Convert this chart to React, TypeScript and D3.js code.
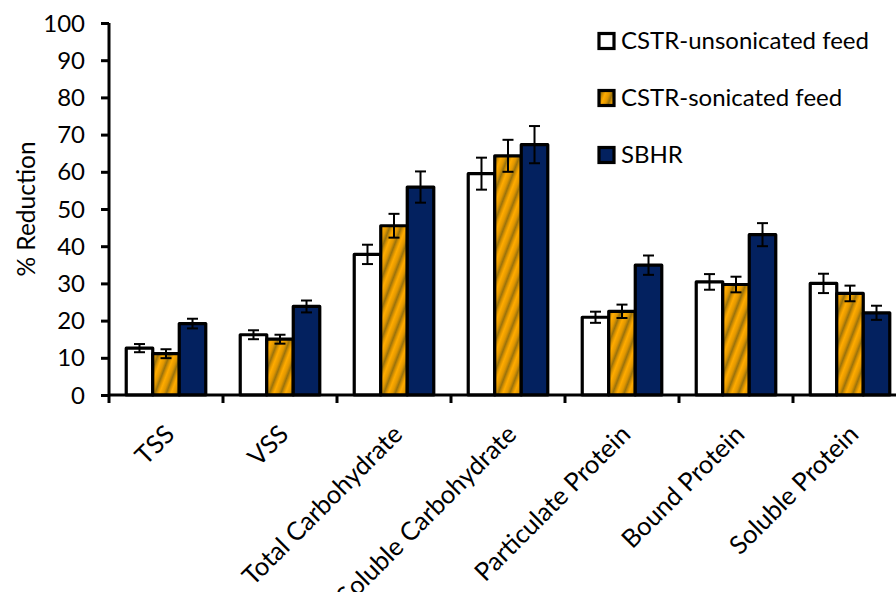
import React, { useEffect, useRef } from "react";
import * as d3 from "d3";

const categories = [
  "TSS",
  "VSS",
  "Total Carbohydrate",
  "Soluble Carbohydrate",
  "Particulate Protein",
  "Bound Protein",
  "Soluble Protein",
];
const seriesNames = ["CSTR-unsonicated feed", "CSTR-sonicated feed", "SBHR"];
const unsonicated = [12.6, 16.2, 37.8, 59.5, 20.9, 30.4, 30.0];
const sonicated = [11.1, 15.0, 45.5, 64.3, 22.5, 29.7, 27.3];
const sbhr = [19.2, 23.8, 55.9, 67.3, 34.9, 43.1, 22.1];
const unsonicatedErr = [1.1, 1.2, 2.6, 4.3, 1.5, 2.1, 2.6];
const sonicatedErr = [1.2, 1.2, 3.2, 4.3, 1.8, 2.1, 2.1];
const sbhrErr = [1.3, 1.6, 4.2, 5.0, 2.6, 3.1, 1.9];
const yTicks = [0, 10, 20, 30, 40, 50, 60, 70, 80, 90, 100];

const W = 896;
const H = 592;
const FONT = "Lato, 'Liberation Sans', sans-serif";

export default function App() {
  const ref = useRef<SVGSVGElement | null>(null);

  useEffect(() => {
    document.body.style.margin = "0";
    const svg = d3.select(ref.current);
    svg.selectAll("*").remove();

    const defs = svg.append("defs");
    const grad = defs
      .append("linearGradient")
      .attr("id", "gold")
      .attr("gradientUnits", "userSpaceOnUse")
      .attr("spreadMethod", "repeat")
      .attr("x1", 0)
      .attr("y1", 0)
      .attr("x2", 10)
      .attr("y2", 3.8);
    [
      [0, "#FFAB00"],
      [0.35, "#E09600"],
      [0.6, "#9A720C"],
      [0.82, "#DC9400"],
      [1, "#FFAB00"],
    ].forEach(([o, c]) =>
      grad.append("stop").attr("offset", o as number).attr("stop-color", c as string)
    );

    const fills = ["#FFFFFF", "url(#gold)", "#03215F"];
    const values = [unsonicated, sonicated, sbhr];
    const errs = [unsonicatedErr, sonicatedErr, sbhrErr];

    const x0 = 109;
    const step = 114;
    const x = d3
      .scaleBand<string>()
      .domain(categories)
      .range([x0, x0 + step * categories.length])
      .paddingInner(0)
      .paddingOuter(0);
    const xs = d3
      .scaleBand<string>()
      .domain(seriesNames)
      .range([0, x.bandwidth()])
      .paddingInner(0)
      .paddingOuter(0.65);
    const y = d3.scaleLinear().domain([0, 100]).range([395, 23]);

    // bars
    const g = svg.append("g");
    seriesNames.forEach((s, si) => {
      g.selectAll(null)
        .data(categories)
        .enter()
        .append("rect")
        .attr("x", (c) => (x(c) as number) + (xs(s) as number))
        .attr("y", (c, i) => y(values[si][i]))
        .attr("width", xs.bandwidth())
        .attr("height", (c, i) => y(0) - y(values[si][i]))
        .attr("fill", fills[si])
        .attr("stroke", "#000")
        .attr("stroke-width", 3.2)
        .attr("stroke-linejoin", "round");
    });

    // error bars
    seriesNames.forEach((s, si) => {
      categories.forEach((c, i) => {
        const cx = (x(c) as number) + (xs(s) as number) + xs.bandwidth() / 2;
        const v = values[si][i];
        const e = errs[si][i];
        const eg = g.append("g").attr("stroke", "#000").attr("stroke-width", 2);
        eg.append("line").attr("x1", cx).attr("x2", cx).attr("y1", y(v + e)).attr("y2", y(v - e));
        [v + e, v - e].forEach((vv) =>
          eg
            .append("line")
            .attr("x1", cx - 5.5)
            .attr("x2", cx + 5.5)
            .attr("y1", y(vv))
            .attr("y2", y(vv))
        );
      });
    });

    // y axis
    const yAxis = d3
      .axisLeft(y)
      .tickValues(yTicks)
      .tickSize(8)
      .tickPadding(16)
      .tickFormat((d) => String(d));
    const ya = svg.append("g").attr("transform", `translate(${x0},0)`).call(yAxis);
    ya.select(".domain").attr("stroke-width", 3).attr("d", `M0,${y(100)}V${y(0) + 1}`);
    ya.selectAll(".tick line").attr("stroke-width", 3);
    ya.selectAll(".tick text")
      .attr("font-family", FONT)
      .attr("font-size", 24)
      .attr("fill", "#000")
      .attr("dy", "0.34em");
    ya.attr("font-family", null).attr("font-size", null);

    // x axis
    const xa = svg.append("g");
    xa.append("line")
      .attr("x1", x0)
      .attr("x2", x0 + step * categories.length)
      .attr("y1", y(0))
      .attr("y2", y(0))
      .attr("stroke", "#000")
      .attr("stroke-width", 3);
    const bounds = categories.map((c) => x(c) as number);
    xa.selectAll(null)
      .data(bounds)
      .enter()
      .append("line")
      .attr("x1", (d) => d)
      .attr("x2", (d) => d)
      .attr("y1", y(0))
      .attr("y2", y(0) + 8)
      .attr("stroke", "#000")
      .attr("stroke-width", 3);
    xa.selectAll(null)
      .data(categories)
      .enter()
      .append("text")
      .attr(
        "transform",
        (c) => `translate(${(x(c) as number) + x.bandwidth() / 2 - 3},${y(0) + 28}) rotate(-45)`
      )
      .attr("text-anchor", "end")
      .attr("dy", "0.72em")
      .attr("font-family", FONT)
      .attr("font-size", 25.5)
      .attr("fill", "#000")
      .text((c) => c);

    // y label
    svg
      .append("text")
      .attr("transform", `translate(35,${(y(0) + y(100)) / 2}) rotate(-90)`)
      .attr("text-anchor", "middle")
      .attr("font-family", FONT)
      .attr("font-size", 24.5)
      .attr("fill", "#000")
      .text("% Reduction");

    // legend
    const lg = svg.append("g");
    seriesNames.forEach((s, si) => {
      const cy = 41 + si * 57;
      lg.append("rect")
        .attr("x", 599)
        .attr("y", cy - 7.5)
        .attr("width", 15)
        .attr("height", 15)
        .attr("fill", fills[si])
        .attr("stroke", "#000")
        .attr("stroke-width", 3.2);
      lg.append("text")
        .attr("x", 621)
        .attr("y", cy)
        .attr("dy", "0.35em")
        .attr("font-family", FONT)
        .attr("font-size", 24)
        .attr("fill", "#000")
        .text(s);
    });
  }, []);

  return (
    <svg
      ref={ref}
      width={W}
      height={H}
      viewBox={`0 0 ${W} ${H}`}
      style={{ display: "block", background: "#fff" }}
    />
  );
}
